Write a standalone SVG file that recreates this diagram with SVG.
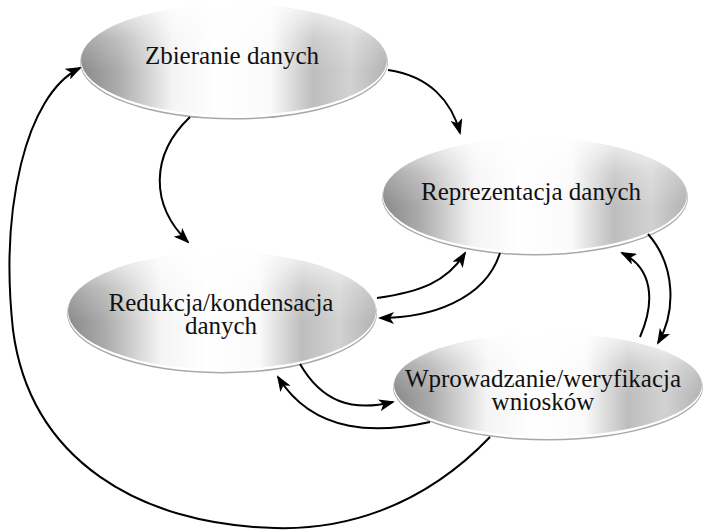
<svg xmlns="http://www.w3.org/2000/svg" width="705" height="532" viewBox="0 0 705 532">
  <defs>
    <!-- shaded fill of the ovals: grey at the sides, white band in the middle -->
    <linearGradient id="shade" x1="0" y1="0" x2="1" y2="0">
      <stop offset="0" stop-color="#8a8a8a"/>
      <stop offset="0.12" stop-color="#ababab"/>
      <stop offset="0.3" stop-color="#f4f4f4"/>
      <stop offset="0.45" stop-color="#ffffff"/>
      <stop offset="0.62" stop-color="#fafafa"/>
      <stop offset="0.76" stop-color="#bdbdbd"/>
      <stop offset="0.88" stop-color="#d2d2d2"/>
      <stop offset="1" stop-color="#b2b2b2"/>
    </linearGradient>
    <!-- soft light falling on the upper part of each oval -->
    <linearGradient id="glow" x1="0" y1="0" x2="0" y2="1">
      <stop offset="0" stop-color="#ffffff" stop-opacity="0.8"/>
      <stop offset="0.3" stop-color="#ffffff" stop-opacity="0.25"/>
      <stop offset="0.6" stop-color="#ffffff" stop-opacity="0"/>
    </linearGradient>
    <marker id="head" viewBox="0 0 16 12" refX="14" refY="6" markerWidth="16" markerHeight="12" markerUnits="userSpaceOnUse" orient="auto">
      <path d="M0,0 L16,6 L0,12 L4,6 Z" fill="#000"/>
    </marker>
    <style>
      .rim { fill: #a8a8a8; }
      .edge { fill: #ffffff; }
      .body { fill: url(#shade); }
      .light { fill: url(#glow); }
      .label { font-size: 25px; fill: #111; text-anchor: middle; }
      .link { fill: none; stroke: #000; stroke-width: 2; marker-end: url(#head); }
    </style>
  </defs>

  <rect width="705" height="532" fill="#ffffff"/>

  <g id="zbieranie">
    <ellipse class="rim" cx="234" cy="62.5" rx="154" ry="57"/>
    <ellipse class="edge" cx="234" cy="61.5" rx="153.5" ry="56.5"/>
    <ellipse class="body" cx="234" cy="60" rx="153" ry="55.5"/>
    <ellipse class="light" cx="234" cy="60" rx="153" ry="55.5"/>
    <text class="label" font-family="'Liberation Serif', 'Times New Roman', 'DejaVu Serif', serif" x="232" y="64">Zbieranie danych</text>
  </g>

  <g id="reprezentacja">
    <ellipse class="rim" cx="535" cy="197.5" rx="153" ry="58"/>
    <ellipse class="edge" cx="535" cy="196.5" rx="152.5" ry="57.5"/>
    <ellipse class="body" cx="535" cy="195" rx="152" ry="56.5"/>
    <ellipse class="light" cx="535" cy="195" rx="152" ry="56.5"/>
    <text class="label" font-family="'Liberation Serif', 'Times New Roman', 'DejaVu Serif', serif" x="531" y="200">Reprezentacja danych</text>
  </g>

  <g id="redukcja">
    <ellipse class="rim" cx="222" cy="313.5" rx="155" ry="60"/>
    <ellipse class="edge" cx="222" cy="312.5" rx="154.5" ry="59.5"/>
    <ellipse class="body" cx="222" cy="311" rx="154" ry="58.5"/>
    <ellipse class="light" cx="222" cy="311" rx="154" ry="58.5"/>
    <text class="label" font-family="'Liberation Serif', 'Times New Roman', 'DejaVu Serif', serif" x="221" y="311">Redukcja/kondensacja</text>
    <text class="label" font-family="'Liberation Serif', 'Times New Roman', 'DejaVu Serif', serif" x="221" y="334">danych</text>
  </g>

  <g id="wprowadzanie">
    <ellipse class="rim" cx="548" cy="387.5" rx="155" ry="53"/>
    <ellipse class="edge" cx="548" cy="386.5" rx="154.5" ry="52.5"/>
    <ellipse class="body" cx="548" cy="385" rx="154" ry="51.5"/>
    <ellipse class="light" cx="548" cy="385" rx="154" ry="51.5"/>
    <text class="label" font-family="'Liberation Serif', 'Times New Roman', 'DejaVu Serif', serif" x="543" y="387">Wprowadzanie/weryfikacja</text>
    <text class="label" font-family="'Liberation Serif', 'Times New Roman', 'DejaVu Serif', serif" x="543" y="410">wniosków</text>
  </g>

  <g id="connectors">
    <path class="link" d="M388,70 C430,76 452,102 460,133"/>
    <path class="link" d="M190,117 C150,155 150,205 188,242"/>
    <path class="link" d="M490,437 C420,510 340,530 275,528 C140,525 30,460 13,330 C0,210 25,95 80,68"/>
    <path class="link" d="M377,298 C420,292 447,282 465,253"/>
    <path class="link" d="M500,253 C485,300 430,318 380,318"/>
    <path class="link" d="M648,234 C676,266 676,312 658,343"/>
    <path class="link" d="M640,337 C656,300 652,268 622,253"/>
    <path class="link" d="M300,364 C322,402 352,412 393,402"/>
    <path class="link" d="M430,422 C380,433 315,436 278,377"/>
  </g>
</svg>
